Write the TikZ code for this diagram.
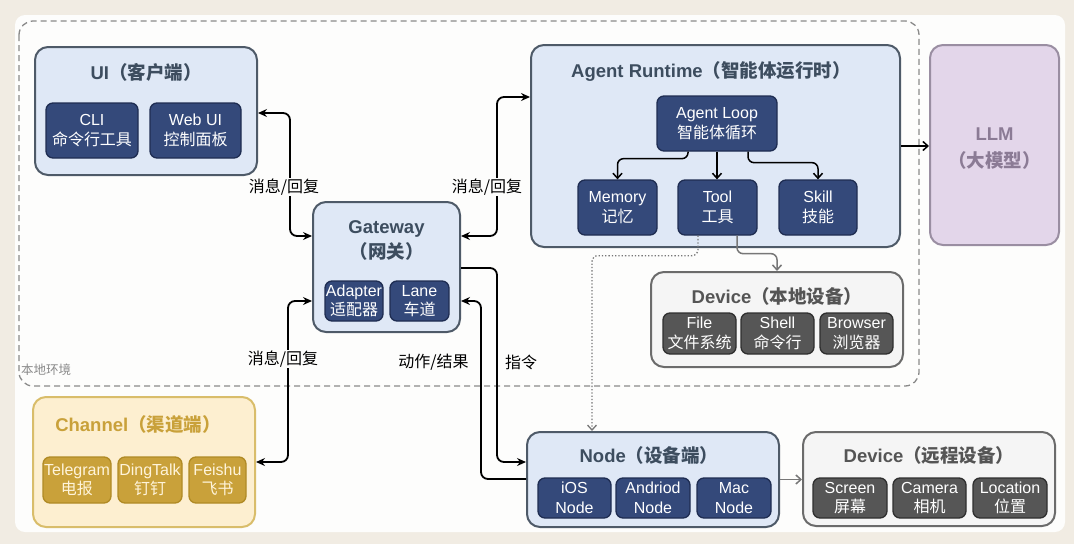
\documentclass[tikz,border=0pt]{standalone}
\usepackage{fontspec}
\setmainfont{Liberation Sans}
\newfontfamily\cjk{Noto Sans CJK SC}
\usetikzlibrary{arrows.meta}

\definecolor{paper}{HTML}{F1ECE3}
\definecolor{panel}{HTML}{FDFDFC}
\definecolor{localline}{HTML}{8A8A8A}
\definecolor{bluefill}{HTML}{DFE8F6}
\definecolor{blueline}{HTML}{4E5A68}
\definecolor{bluetext}{HTML}{3D4D5F}
\definecolor{navyfill}{HTML}{34497A}
\definecolor{navyline}{HTML}{1F2D52}
\definecolor{grayfill}{HTML}{F5F5F5}
\definecolor{grayline}{HTML}{6B6B6B}
\definecolor{graytext}{HTML}{555555}
\definecolor{darkfill}{HTML}{565656}
\definecolor{darkline}{HTML}{2F2F2F}
\definecolor{goldfill}{HTML}{FDEFD0}
\definecolor{goldline}{HTML}{D9BD6A}
\definecolor{goldtext}{HTML}{C9A13A}
\definecolor{golditem}{HTML}{C9A13A}
\definecolor{golditemline}{HTML}{B08A25}
\definecolor{goldwhite}{HTML}{FFF4DA}
\definecolor{llmfill}{HTML}{E3D6EA}
\definecolor{llmline}{HTML}{9A8EA2}
\definecolor{llmtext}{HTML}{8B7B95}
\definecolor{arrowgray}{HTML}{777777}

\tikzset{
  wh/.style 2 args={minimum width=#1pt, minimum height=#2pt},
  grp/.style={draw, line width=2pt, rounded corners=13pt, inner sep=0pt},
  bluegrp/.style={grp, fill=bluefill, draw=blueline},
  graygrp/.style={grp, fill=grayfill, draw=grayline},
  goldgrp/.style={grp, fill=goldfill, draw=goldline},
  llmgrp/.style={grp, fill=llmfill, draw=llmline},
  title/.style={font=\bfseries\fontsize{18.5}{25}\selectfont, align=center, inner sep=0pt},
  item/.style={draw, line width=1.3pt, rounded corners=7pt, inner sep=0pt, align=center,
    font=\fontsize{16}{19.5}\selectfont},
  navy/.style={item, fill=navyfill, draw=navyline, text=white},
  dark/.style={item, fill=darkfill, draw=darkline, text=white},
  gold/.style={item, fill=golditem, draw=golditemline, text=goldwhite},
  lbl/.style={font=\fontsize{16}{19}\selectfont, inner sep=1pt},
  link/.style={line width=1.8pt, rounded corners=7pt},
  tip/.tip={Stealth[length=9pt, width=8pt, inset=3pt]},
  inner/.style={line width=1.5pt, rounded corners=6pt, -{Straight Barb[length=5pt, width=9pt]}},
}

\begin{document}
\begin{tikzpicture}[x=1pt,y=-1pt]
  \useasboundingbox (0,0) rectangle (1074,544);
  \fill[paper] (0,0) rectangle (1074,544);
  \fill[panel, rounded corners=10pt] (15,15) rectangle (1065,532);
  \draw[localline, line width=1.3pt, dash pattern=on 6pt off 4pt, rounded corners=14pt] (19,21) rectangle (919,386);
  \node[text=localline, font=\cjk\fontsize{12.5}{13}\selectfont, anchor=west, inner sep=0pt] (local) at (21,370) {本地环境};

  % UI
  \node[bluegrp, wh={222}{128}] (ui) at (146,111) {};
  \node[title, text=bluetext] (uit) at (146,72) {UI{\cjk（客户端）}};
  \node[navy, wh={92}{55}] (cli) at (92,130.5) {CLI\\{\cjk 命令行工具}};
  \node[navy, wh={91}{55}] (webui) at (195.5,130.5) {Web UI\\{\cjk 控制面板}};

  % Gateway
  \node[bluegrp, wh={147}{130}] (gw) at (386.5,267) {};
  \node[title, text=bluetext] (gwt) at (386.5,240.5) {Gateway\\{\cjk（网关）}};
  \node[navy, wh={58}{40}] (adapter) at (354,301) {Adapter\\{\cjk 适配器}};
  \node[navy, wh={59}{40}] (lane) at (419.5,301) {Lane\\{\cjk 车道}};

  % Agent Runtime
  \node[bluegrp, wh={369}{202}] (agent) at (715.5,146) {};
  \node[title, text=bluetext] (agentt) at (711,71) {Agent Runtime{\cjk（智能体运行时）}};
  \node[navy, wh={120}{55}] (loop) at (717,123.5) {Agent Loop\\{\cjk 智能体循环}};
  \node[navy, wh={79}{55}] (memory) at (617.5,207.5) {Memory\\{\cjk 记忆}};
  \node[navy, wh={79}{55}] (tool) at (717.5,207.5) {Tool\\{\cjk 工具}};
  \node[navy, wh={78}{55}] (skill) at (818,207.5) {Skill\\{\cjk 技能}};

  % LLM
  \node[llmgrp, wh={129}{200}] (llm) at (994.5,145) {};
  \node[title, text=llmtext, font=\bfseries\fontsize{18.5}{27}\selectfont] (llmt) at (994.5,148.5) {LLM\\{\cjk（大模型）}};

  % Device local
  \node[graygrp, wh={252}{95}] (devl) at (777,319.5) {};
  \node[title, text=graytext] (devlt) at (777,296) {Device{\cjk（本地设备）}};
  \node[dark, wh={73}{41}] (file) at (699.5,333.5) {File\\{\cjk 文件系统}};
  \node[dark, wh={73}{41}] (shell) at (777.5,333.5) {Shell\\{\cjk 命令行}};
  \node[dark, wh={73}{41}] (browser) at (856.5,333.5) {Browser\\{\cjk 浏览器}};

  % Channel
  \node[goldgrp, wh={222}{130}] (ch) at (144,462) {};
  \node[title, text=goldtext] (cht) at (138,424) {Channel{\cjk（渠道端）}};
  \node[gold, wh={68}{46}] (telegram) at (77,480) {Telegram\\{\cjk 电报}};
  \node[gold, wh={64}{46}] (dingtalk) at (150,480) {DingTalk\\{\cjk 钉钉}};
  \node[gold, wh={57}{46}] (feishu) at (217.5,480) {Feishu\\{\cjk 飞书}};

  % Node
  \node[bluegrp, wh={252}{95}] (node) at (653,479.5) {};
  \node[title, text=bluetext] (nodet) at (649,455) {Node{\cjk（设备端）}};
  \node[navy, wh={73}{40}] (ios) at (574.5,498) {iOS\\Node};
  \node[navy, wh={74}{40}] (andriod) at (653,498) {Andriod\\Node};
  \node[navy, wh={74}{40}] (mac) at (734,498) {Mac\\Node};

  % Device remote
  \node[graygrp, wh={252}{94}] (devr) at (929,479) {};
  \node[title, text=graytext] (devrt) at (929,455) {Device{\cjk（远程设备）}};
  \node[dark, wh={74}{40}] (screen) at (850,498) {Screen\\{\cjk 屏幕}};
  \node[dark, wh={73}{40}] (camera) at (929.5,498) {Camera\\{\cjk 相机}};
  \node[dark, wh={74}{40}] (location) at (1010,498) {Location\\{\cjk 位置}};

  % connectors
  \draw[link, tip-tip] ([yshift=-2pt]ui.east) -- ++(32,0) |- ([yshift=31pt]gw.west);
  \draw[link, tip-tip] ([yshift=31pt]gw.east) -- ++(36,0) |- ([yshift=49pt]agent.west);
  \draw[link, tip-tip] ([yshift=-34pt]gw.west) -- ++(-24,0) |- (ch.east);
  \draw[link, -tip] ([yshift=-1pt]gw.east) -- ++(36,0) |- ([yshift=17.5pt]node.west);
  \draw[link, -tip] ([yshift=0.5pt]node.west) -- ++(-45,0) |- ([yshift=-34pt]gw.east);
  \draw[inner] ([xshift=-29pt]loop.south) -- ++(0,7) -| (memory.north);
  \draw[inner] (loop.south) -- (loop.south |- tool.north);
  \draw[inner] ([xshift=31pt]loop.south) -- ++(0,11) -| (skill.north);
  \draw[inner] (agent.east) -- (agent.east -| llm.west);
  \draw[inner, arrowgray] ([xshift=19.5pt]tool.south) -- ++(0,18) -| (devl.north);
  \draw[inner, arrowgray, line width=1.3pt, dotted] ([xshift=-19.5pt]tool.south) -- ++(0,20) -| ([xshift=-61pt]node.north);
  \draw[inner, arrowgray] (node.east) -- (node.east -| devr.west);

  \node[lbl, fill=panel] (msg1) at (284,187) {\cjk 消息/回复};
  \node[lbl, fill=panel] (msg2) at (487,187) {\cjk 消息/回复};
  \node[lbl, fill=panel] (msg3) at (283,359) {\cjk 消息/回复};
  \node[lbl] (act) at (433.5,362) {\cjk 动作/结果};
  \node[lbl] (cmd) at (521,362) {\cjk 指令};
\end{tikzpicture}
\end{document}
